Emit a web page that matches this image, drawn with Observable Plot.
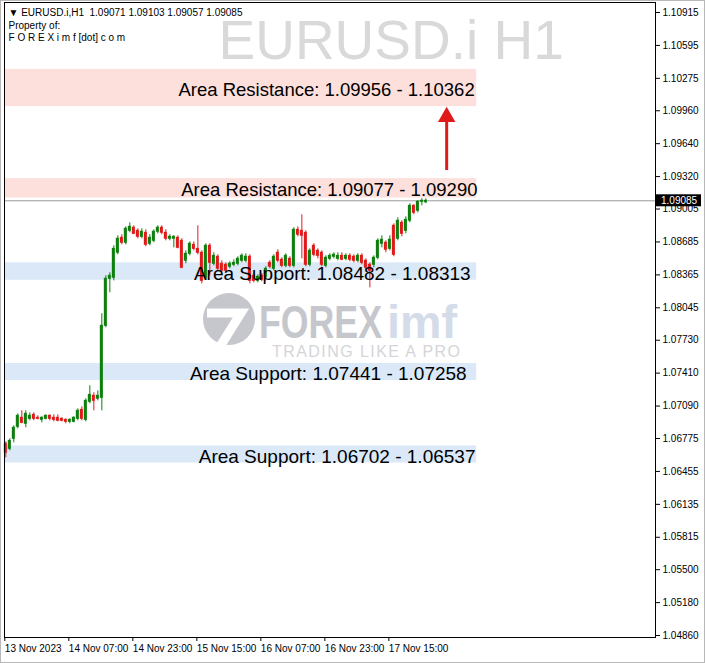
<!DOCTYPE html>
<html><head><meta charset="utf-8">
<script src="https://cdn.jsdelivr.net/npm/d3@7"></script>
<script src="https://cdn.jsdelivr.net/npm/@observablehq/plot@0.6"></script>
<style>
html,body{margin:0;padding:0;background:#fff;}
#chart svg{display:block;outline:1px solid #b8b8b8;outline-offset:-1px;}
</style></head><body><div id="chart"></div>
<script>
const symbol = "EURUSD.i";
const timeframe = "H1";

// Hourly candles (bar index 0 = 13 Nov 2023 15:00)
const open = [
1.06723,1.06674,1.06772,1.06888,1.06976,1.06918,1.06966,1.07005,1.06976,1.06956,
1.06966,1.06995,1.06976,1.06976,1.06966,1.06956,1.06937,1.06937,1.06966,1.07053,
1.06956,1.07131,1.07190,1.07161,1.07170,1.07870,1.08327,1.08337,1.08580,1.08725,
1.08677,1.08793,1.08823,1.08793,1.08735,1.08774,1.08667,1.08696,1.08784,1.08823,
1.08774,1.08716,1.08716,1.08725,1.08696,1.08502,1.08570,1.08657,1.08618,1.08580,
1.08337,1.08648,1.08473,1.08541,1.08473,1.08463,1.08444,1.08463,1.08473,1.08502,
1.08502,1.08541,1.08356,1.08307,1.08356,1.08346,1.08482,1.08424,1.08580,1.08512,
1.08453,1.08521,1.08453,1.08803,1.08793,1.08774,1.08463,1.08648,1.08599,1.08580,
1.08453,1.08521,1.08541,1.08521,1.08550,1.08521,1.08550,1.08541,1.08502,1.08550,
1.08502,1.08463,1.08463,1.08531,1.08667,1.08677,1.08618,1.08842,1.08716,1.08871,
1.08793,1.08891,1.09036,1.08988,1.09075,1.09071];
const high = [
1.06743,1.06772,1.06898,1.07015,1.07044,1.07044,1.07024,1.07024,1.06995,1.06986,
1.07005,1.07005,1.07005,1.07005,1.06976,1.06966,1.06966,1.06986,1.07063,1.07083,
1.07161,1.07287,1.07219,1.07238,1.07987,1.08356,1.08385,1.08648,1.08745,1.08755,
1.08832,1.08871,1.08842,1.08813,1.08813,1.08803,1.08755,1.08803,1.08842,1.08842,
1.08803,1.08755,1.08745,1.08745,1.08716,1.08599,1.08686,1.08686,1.08842,1.08599,
1.08667,1.08667,1.08580,1.08560,1.08502,1.08482,1.08492,1.08512,1.08541,1.08570,
1.08570,1.08560,1.08376,1.08366,1.08376,1.08444,1.08502,1.08560,1.08609,1.08531,
1.08570,1.08541,1.08823,1.08832,1.08949,1.08793,1.08618,1.08667,1.08618,1.08599,
1.08550,1.08570,1.08580,1.08580,1.08580,1.08570,1.08570,1.08560,1.08570,1.08570,
1.08521,1.08482,1.08550,1.08716,1.08745,1.08696,1.08745,1.08861,1.08920,1.08891,
1.08929,1.09056,1.09046,1.09085,1.09104,1.09103];
const low = [
1.06587,1.06655,1.06733,1.06869,1.06918,1.06879,1.06947,1.06947,1.06956,1.06927,
1.06956,1.06947,1.06937,1.06937,1.06937,1.06918,1.06918,1.06927,1.06947,1.06947,
1.06937,1.07112,1.07044,1.07141,1.07044,1.07851,1.08191,1.08307,1.08560,1.08657,
1.08657,1.08774,1.08755,1.08716,1.08716,1.08638,1.08648,1.08677,1.08764,1.08755,
1.08696,1.08696,1.08628,1.08618,1.08424,1.08473,1.08550,1.08599,1.08560,1.08278,
1.08317,1.08356,1.08453,1.08405,1.08385,1.08385,1.08424,1.08444,1.08453,1.08482,
1.08482,1.08278,1.08288,1.08288,1.08298,1.08307,1.08424,1.08405,1.08482,1.08434,
1.08434,1.08434,1.08434,1.08735,1.08521,1.08444,1.08444,1.08541,1.08521,1.08444,
1.08434,1.08502,1.08521,1.08502,1.08502,1.08502,1.08492,1.08482,1.08482,1.08463,
1.08414,1.08239,1.08434,1.08512,1.08628,1.08580,1.08599,1.08541,1.08696,1.08735,
1.08764,1.08871,1.08949,1.08968,1.09036,1.09057];
const close = [
1.06636,1.06752,1.06879,1.06995,1.06927,1.07015,1.06995,1.06966,1.06966,1.06976,
1.06995,1.06966,1.06956,1.06947,1.06947,1.06937,1.06956,1.06976,1.07044,1.06966,
1.07141,1.07199,1.07141,1.07190,1.07870,1.08327,1.08356,1.08618,1.08716,1.08677,
1.08813,1.08832,1.08764,1.08735,1.08784,1.08657,1.08725,1.08784,1.08823,1.08774,
1.08716,1.08735,1.08735,1.08628,1.08434,1.08570,1.08667,1.08618,1.08580,1.08307,
1.08648,1.08482,1.08550,1.08424,1.08405,1.08405,1.08473,1.08482,1.08521,1.08550,
1.08541,1.08307,1.08307,1.08346,1.08317,1.08424,1.08444,1.08541,1.08502,1.08453,
1.08550,1.08453,1.08803,1.08755,1.08745,1.08463,1.08599,1.08560,1.08550,1.08463,
1.08531,1.08550,1.08560,1.08550,1.08512,1.08550,1.08512,1.08502,1.08550,1.08482,
1.08434,1.08405,1.08531,1.08696,1.08706,1.08609,1.08706,1.08560,1.08891,1.08764,
1.08900,1.09036,1.08968,1.09075,1.09085,1.09085];

// Axes
const timeTickIndex = [0, 16, 32, 48, 64, 80, 96];
const timeTickLabels = ["13 Nov 2023", "14 Nov 07:00", "14 Nov 23:00", "15 Nov 15:00", "16 Nov 07:00", "16 Nov 23:00", "17 Nov 15:00"];
const priceTicks = [1.10915,1.10595,1.10275,1.09960,1.09640,1.09320,1.09005,1.08685,1.08365,1.08045,1.07730,1.07410,1.07090,1.06775,1.06455,1.06135,1.05815,1.05500,1.05180,1.04860];
const xView = [-0.33, 162.4];
const yView = [1.04841, 1.11012];

// Zones
const zoneName = ["Area Resistance", "Area Resistance", "Area Support", "Area Support", "Area Support"];
const zoneTextA = ["1.09956", "1.09077", "1.08482", "1.07441", "1.06702"];
const zoneTextB = ["1.10362", "1.09290", "1.08313", "1.07258", "1.06537"];
const zoneTop = [1.10362, 1.09300, 1.08482, 1.07504, 1.06702];
const zoneBottom = [1.10000, 1.09112, 1.08313, 1.07338, 1.06537];
const zoneKind = ["res", "res", "sup", "sup", "sup"];
const zoneLabelAt = [117.2, 117.9, 116.2, 115.2, 117.4];
const zoneStart = -0.33, zoneEnd = 117.7;

// Arrow (bar position and price levels)
const arrowAt = 110.2, arrowFrom = 1.09379, arrowShaftTo = 1.09870, arrowHeadAt = 1.09900;

const GREEN = "#0d7f0d", RED = "#e01a1a";
const bars = open.map((o, i) => ({i, open: o, high: high[i], low: low[i], close: close[i]}));
const zones = zoneName.map((n, i) => ({text: `${n}: ${zoneTextA[i]} - ${zoneTextB[i]}`, top: zoneTop[i], bottom: zoneBottom[i], kind: zoneKind[i], at: zoneLabelAt[i]}));
const last = bars[bars.length - 1];
const f5 = v => v.toFixed(5);
const header = `\u25BC ${symbol},${timeframe}\u00a0\u00a0${f5(last.open)} ${f5(last.high)} ${f5(last.low)} ${f5(last.close)}\nProperty of:\nF O R E X i m f [dot] c o m`;
const FONT = "'Liberation Sans', Arial, sans-serif";

function forexLogo(index, scales, values, dims) {
  const g = d3.create("svg:g").attr("text-anchor", "start").attr("font-family", FONT);
  const ox = dims.marginLeft, oy = dims.marginTop;
  const cx = ox + 225, cy = oy + 317;
  g.append("circle").attr("cx", cx).attr("cy", cy).attr("r", 26).attr("fill", "#c6c7cd");
  g.append("path").attr("d", `M${cx-22},${cy-6} H${cx+12} L${cx-8},${cy+26}`).attr("fill", "none").attr("stroke", "#fff").attr("stroke-width", 9).attr("stroke-linejoin", "miter");
  g.append("text").attr("x", ox + 255).attr("y", oy + 336).attr("font-size", 46).attr("font-weight", "bold").attr("fill", "#c6c7cd").attr("textLength", 123).attr("lengthAdjust", "spacingAndGlyphs").text("FOREX");
  g.append("text").attr("x", ox + 383).attr("y", oy + 336).attr("font-size", 46).attr("font-weight", "bold").attr("fill", "#d3dce8").attr("textLength", 70).attr("lengthAdjust", "spacingAndGlyphs").text("imf");
  g.append("text").attr("x", ox + 268).attr("y", oy + 355).attr("font-size", 16).attr("fill", "#d5d5d9").attr("textLength", 188).attr("lengthAdjust", "spacing").text("TRADING LIKE A PRO");
  return g.node();
}

function priceTag(index, scales, values, dims) {
  const g = d3.create("svg:g").attr("text-anchor", "start");
  const y = scales.y(last.close);
  const x = dims.width - dims.marginRight + 1;
  g.append("rect").attr("x", x).attr("y", y - 6).attr("width", 45).attr("height", 12).attr("fill", "#000");
  g.append("text").attr("x", x + 5).attr("y", y).attr("dy", "0.35em").attr("fill", "#fff").attr("font-size", 10).text(f5(last.close));
  return g.node();
}

const chart = Plot.plot({
  width: 705, height: 663,
  marginLeft: 4, marginRight: 50, marginTop: 2, marginBottom: 26,
  x: {type: "linear", domain: xView, axis: null, label: null},
  y: {type: "linear", domain: yView, axis: null, label: null},
  style: {fontFamily: FONT, fontSize: "10px", background: "#fff", color: "#000", overflow: "visible"},
  marks: [
    Plot.text([`${symbol} ${timeframe}`], {frameAnchor: "top-left", dx: 214, dy: 17, lineAnchor: "top", textAnchor: "start", fontSize: 55, fill: "#d9d9d9", text: d => d}),
    forexLogo,
    Plot.rect(zones, {x1: zoneStart, x2: zoneEnd, y1: "bottom", y2: "top", fill: d => d.kind === "res" ? "#fddfdb" : "#dae8f7"}),
    Plot.ruleY([last.close], {stroke: "#9a9a9a", strokeWidth: 1}),
    Plot.ruleX(bars, {x: "i", y1: "low", y2: "high", stroke: d => d.close >= d.open ? GREEN : RED, strokeWidth: 1}),
    Plot.rect(bars, {x1: d => d.i - 0.375, x2: d => d.i + 0.375, y1: "open", y2: "close", fill: d => d.close >= d.open ? GREEN : RED, insetTop: -0.5, insetBottom: -0.5}),
    Plot.text(zones, {x: "at", y: d => (d.top + d.bottom) / 2, text: "text", textAnchor: "end", fontSize: d => d.kind === "res" ? 18.5 : 19, fill: "#000", dy: 2}),
    Plot.ruleX([arrowAt], {x: d => d, y1: arrowFrom, y2: arrowShaftTo, stroke: RED, strokeWidth: 3}),
    Plot.dot([arrowAt], {x: d => d, y: arrowHeadAt, symbol: "triangle", r: 5.5, fill: RED, stroke: RED}),
    Plot.text([header], {frameAnchor: "top-left", dx: 4, dy: 5, lineAnchor: "top", textAnchor: "start", lineHeight: 1.25, fontSize: 10, fill: "#000", text: d => d}),
    Plot.frame({stroke: "#000"}),
    Plot.axisY(priceTicks, {anchor: "right", label: null, tickSize: 4, tickPadding: 3, tickFormat: f5, fontSize: 10}),
    Plot.axisX(timeTickIndex, {anchor: "bottom", label: null, tickSize: 4, tickPadding: 3, textAnchor: "start", dx: -1, fontSize: 10, tickFormat: d => timeTickLabels[timeTickIndex.indexOf(d)]}),
    priceTag
  ]
});
document.getElementById("chart").appendChild(chart);
</script>
</body></html>
